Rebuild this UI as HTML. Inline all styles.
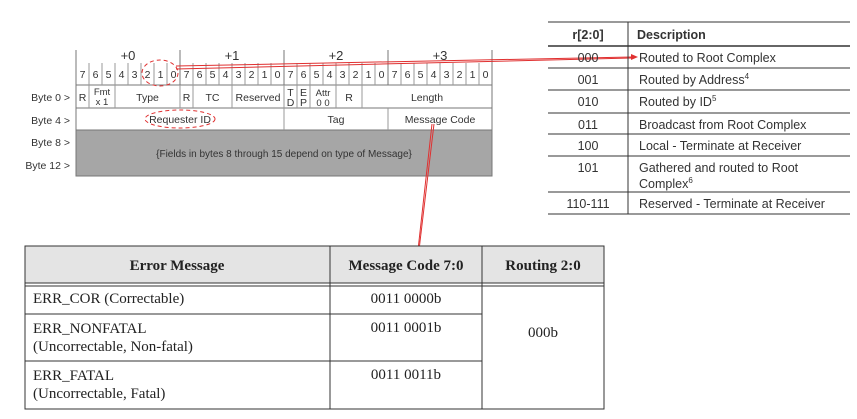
<!DOCTYPE html>
<html><head><style>
body{margin:0;background:#fff;}
svg{display:block;}
.s{font-family:"Liberation Sans",sans-serif;fill:#333;}
.r{font-family:"Liberation Serif",serif;fill:#222;}
</style></head><body>
<svg width="857" height="419" viewBox="0 0 857 419" xmlns="http://www.w3.org/2000/svg">
<g stroke="#777" stroke-width="1" fill="none">
<rect x="76" y="130" width="416" height="46" fill="#a6a6a6" stroke="#777"/>
<line x1="76" y1="50" x2="76" y2="176"/>
<line x1="180" y1="50" x2="180" y2="85"/>
<line x1="284" y1="50" x2="284" y2="85"/>
<line x1="388" y1="50" x2="388" y2="85"/>
<line x1="492" y1="50" x2="492" y2="176"/>
<line x1="76" y1="85" x2="492" y2="85"/>
<line x1="76" y1="108" x2="492" y2="108"/>
<line x1="76" y1="130" x2="492" y2="130"/>
</g>
<g stroke="#999" stroke-width="1">
<line x1="89" y1="63" x2="89" y2="85"/><line x1="102" y1="63" x2="102" y2="85"/><line x1="115" y1="63" x2="115" y2="85"/><line x1="128" y1="63" x2="128" y2="85"/><line x1="141" y1="63" x2="141" y2="85"/><line x1="154" y1="63" x2="154" y2="85"/><line x1="167" y1="63" x2="167" y2="85"/>
<line x1="193" y1="63" x2="193" y2="85"/><line x1="206" y1="63" x2="206" y2="85"/><line x1="219" y1="63" x2="219" y2="85"/><line x1="232" y1="63" x2="232" y2="85"/><line x1="245" y1="63" x2="245" y2="85"/><line x1="258" y1="63" x2="258" y2="85"/><line x1="271" y1="63" x2="271" y2="85"/>
<line x1="297" y1="63" x2="297" y2="85"/><line x1="310" y1="63" x2="310" y2="85"/><line x1="323" y1="63" x2="323" y2="85"/><line x1="336" y1="63" x2="336" y2="85"/><line x1="349" y1="63" x2="349" y2="85"/><line x1="362" y1="63" x2="362" y2="85"/><line x1="375" y1="63" x2="375" y2="85"/>
<line x1="401" y1="63" x2="401" y2="85"/><line x1="414" y1="63" x2="414" y2="85"/><line x1="427" y1="63" x2="427" y2="85"/><line x1="440" y1="63" x2="440" y2="85"/><line x1="453" y1="63" x2="453" y2="85"/><line x1="466" y1="63" x2="466" y2="85"/><line x1="479" y1="63" x2="479" y2="85"/>
<line x1="89" y1="85" x2="89" y2="108"/><line x1="115" y1="85" x2="115" y2="108"/><line x1="180" y1="85" x2="180" y2="108"/><line x1="193" y1="85" x2="193" y2="108"/><line x1="232" y1="85" x2="232" y2="108"/><line x1="284" y1="85" x2="284" y2="108"/><line x1="297" y1="85" x2="297" y2="108"/><line x1="310" y1="85" x2="310" y2="108"/><line x1="336" y1="85" x2="336" y2="108"/><line x1="362" y1="85" x2="362" y2="108"/>
<line x1="284" y1="108" x2="284" y2="130"/><line x1="388" y1="108" x2="388" y2="130"/>
</g>
<g class="s" font-size="13" text-anchor="middle">
<text x="128" y="60">+0</text><text x="232" y="60">+1</text><text x="336" y="60">+2</text><text x="440" y="60">+3</text>
</g>
<g class="s" font-size="10.5" text-anchor="middle">
<text x="82.5" y="78">7</text><text x="95.5" y="78">6</text><text x="108.5" y="78">5</text><text x="121.5" y="78">4</text><text x="134.5" y="78">3</text><text x="147.5" y="78">2</text><text x="160.5" y="78">1</text><text x="173.5" y="78">0</text>
<text x="186.5" y="78">7</text><text x="199.5" y="78">6</text><text x="212.5" y="78">5</text><text x="225.5" y="78">4</text><text x="238.5" y="78">3</text><text x="251.5" y="78">2</text><text x="264.5" y="78">1</text><text x="277.5" y="78">0</text>
<text x="290.5" y="78">7</text><text x="303.5" y="78">6</text><text x="316.5" y="78">5</text><text x="329.5" y="78">4</text><text x="342.5" y="78">3</text><text x="355.5" y="78">2</text><text x="368.5" y="78">1</text><text x="381.5" y="78">0</text>
<text x="394.5" y="78">7</text><text x="407.5" y="78">6</text><text x="420.5" y="78">5</text><text x="433.5" y="78">4</text><text x="446.5" y="78">3</text><text x="459.5" y="78">2</text><text x="472.5" y="78">1</text><text x="485.5" y="78">0</text>
<text x="82.5" y="101">R</text><text x="102" y="95" font-size="9.5">Fmt</text><text x="102" y="105" font-size="9.5">x  1</text>
<text x="147.5" y="101">Type</text><text x="186.5" y="101">R</text><text x="212.5" y="101">TC</text><text x="258" y="101">Reserved</text>
<text x="290.5" y="96">T</text><text x="290.5" y="106">D</text><text x="303.5" y="96">E</text><text x="303.5" y="106">P</text>
<text x="323" y="96" font-size="9.5">Attr</text><text x="323" y="106" font-size="9.5">0  0</text>
<text x="349" y="101">R</text><text x="427" y="101">Length</text>
<text x="180" y="123">Requester ID</text><text x="336" y="123">Tag</text><text x="440" y="123">Message Code</text>
<text x="284" y="157" font-size="10">{Fields in bytes 8 through 15 depend on type of Message}</text>
</g>
<g class="s" font-size="10.5" text-anchor="end">
<text x="70" y="101">Byte 0 &gt;</text><text x="70" y="124">Byte 4 &gt;</text><text x="70" y="146">Byte 8 &gt;</text><text x="70" y="169">Byte 12 &gt;</text>
</g>
<g stroke="#e03030" fill="none">
<ellipse cx="160" cy="73" rx="18" ry="13" stroke-dasharray="4,3"/>
<ellipse cx="180" cy="119" rx="35" ry="9" stroke-dasharray="4,3"/>
<line x1="176" y1="66" x2="632" y2="57"/>
<line x1="176" y1="69" x2="632" y2="58"/>
<line x1="432" y1="124" x2="418" y2="250"/>
<line x1="434" y1="124" x2="419" y2="250"/>
</g>
<polygon points="638,57 631,54 631,60" fill="#e03030"/>
<polygon points="418,256 414,248 422,249" fill="#e03030"/>
<g stroke="#333" stroke-width="1">
<line x1="548" y1="22" x2="850" y2="22"/><line x1="548" y1="46" x2="850" y2="46" stroke-width="1.5"/>
<line x1="548" y1="68" x2="850" y2="68"/><line x1="548" y1="90" x2="850" y2="90"/><line x1="548" y1="113" x2="850" y2="113"/><line x1="548" y1="134" x2="850" y2="134"/><line x1="548" y1="156" x2="850" y2="156"/><line x1="548" y1="192" x2="850" y2="192"/><line x1="548" y1="214" x2="850" y2="214"/>
<line x1="628" y1="22" x2="628" y2="214"/>
</g>
<g class="s" font-size="12.5" fill="#111">
<text x="588" y="39" text-anchor="middle" font-weight="bold">r[2:0]</text>
<text x="637" y="39" font-weight="bold">Description</text>
<g text-anchor="middle"><text x="588" y="62">000</text><text x="588" y="84">001</text><text x="588" y="106">010</text><text x="588" y="129">011</text><text x="588" y="150">100</text><text x="588" y="172">101</text><text x="588" y="208">110-111</text></g>
<text x="639" y="62">Routed to Root Complex</text>
<text x="639" y="84">Routed by Address<tspan font-size="8" dy="-5">4</tspan></text>
<text x="639" y="106">Routed by ID<tspan font-size="8" dy="-5">5</tspan></text>
<text x="639" y="129">Broadcast from Root Complex</text>
<text x="639" y="150">Local - Terminate at Receiver</text>
<text x="639" y="172">Gathered and routed to Root</text>
<text x="639" y="188">Complex<tspan font-size="8" dy="-5">6</tspan></text>
<text x="639" y="208">Reserved - Terminate at Receiver</text>
</g>
<rect x="25" y="246" width="579" height="37" fill="#e4e4e4"/>
<g stroke="#333" stroke-width="1" fill="none">
<rect x="25" y="246" width="579" height="163"/>
<line x1="25" y1="283" x2="604" y2="283"/><line x1="25" y1="286" x2="604" y2="286"/>
<line x1="25" y1="314" x2="482" y2="314"/><line x1="25" y1="361" x2="482" y2="361"/>
<line x1="330" y1="246" x2="330" y2="409"/><line x1="482" y1="246" x2="482" y2="409"/>
</g>
<g class="r" font-size="15">
<g font-weight="bold" text-anchor="middle"><text x="177" y="270">Error Message</text><text x="406" y="270">Message Code 7:0</text><text x="543" y="270">Routing 2:0</text></g>
<text x="33" y="303">ERR_COR (Correctable)</text>
<text x="33" y="333">ERR_NONFATAL</text><text x="33" y="351">(Uncorrectable, Non-fatal)</text>
<text x="33" y="380">ERR_FATAL</text><text x="33" y="398">(Uncorrectable, Fatal)</text>
<g text-anchor="middle"><text x="406" y="303">0011 0000b</text><text x="406" y="332">0011 0001b</text><text x="406" y="379">0011 0011b</text><text x="543" y="337">000b</text></g>
</g>
</svg>
</body></html>
